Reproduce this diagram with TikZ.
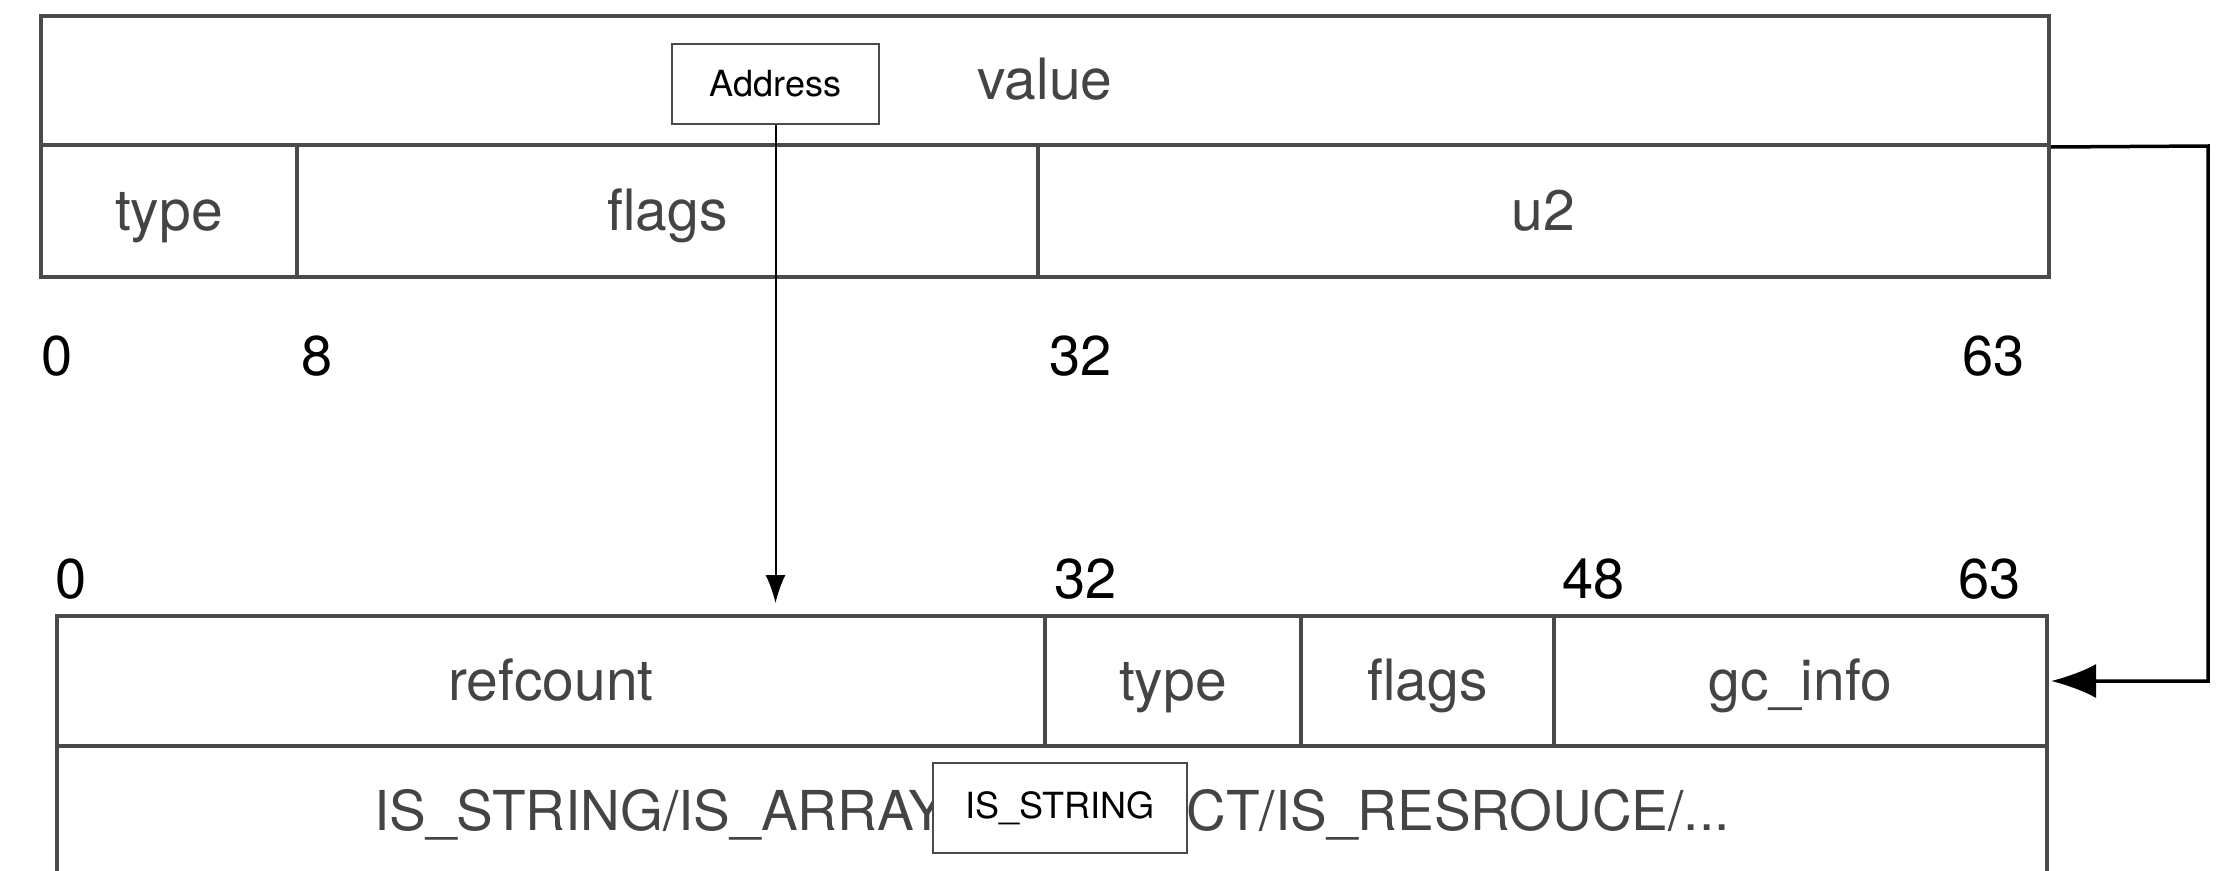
\documentclass[tikz,border=0pt]{standalone}
\usepackage{fontspec}
\setmainfont{TeX Gyre Heros}
\usetikzlibrary{arrows.meta}
\definecolor{boxgray}{HTML}{4A4A4A}
\definecolor{txtgray}{HTML}{444444}
\begin{document}
\begin{tikzpicture}[x=1pt,y=-1pt,
  cell/.style={draw=boxgray, line width=4pt, inner sep=0pt, text height=38pt, text depth=0pt,
    font=\fontsize{57}{60}\selectfont, text=txtgray},
  num/.style={anchor=base west, inner sep=0pt, font=\fontsize{56}{60}\selectfont, text=black},
  tag/.style={draw=boxgray, line width=2pt, fill=white, inner sep=0pt, font=\fontsize{36}{40}\selectfont, text=black},
  link/.style={draw=black, line width=2pt},
]
\useasboundingbox (0,0) rectangle (2234,870);
\clip (0,0) rectangle (2234,870);

% top structure (zval)
\node[cell, minimum width=2008pt, minimum height=129pt] (value) at (1045,80.5) {value};
\node[cell, minimum width=256pt, minimum height=132pt] (ttype) at (169,211) {type};
\node[cell, minimum width=741pt, minimum height=132pt] (tflags) at (667.5,211) {flags};
\node[cell, minimum width=1011pt, minimum height=132pt] (u2) at (1543.5,211) {u2};

% top bit numbers
\node[num] (n0) at (41,375) {0};
\node[num] (n8) at (301,375) {8};
\node[num] (n32) at (1049,375) {32};
\node[num] (n63) at (1962,375) {63};

% bottom structure
\node[cell, minimum width=988pt, minimum height=130pt] (refcount) at (551,681) {refcount};
\node[cell, minimum width=256pt, minimum height=130pt] (btype) at (1173,681) {type};
\node[cell, minimum width=253pt, minimum height=130pt] (bflags) at (1427.5,681) {flags};
\node[cell, minimum width=493pt, minimum height=130pt] (gcinfo) at (1800.5,681) {gc\_info};
\node[cell, minimum width=1990pt, minimum height=130pt, font=\fontsize{55}{60}\selectfont] (kinds) at (1052,811) {IS\_STRING/IS\_ARRAY/IS\_OBJECT/IS\_RESROUCE/...};

% bottom bit numbers
\node[num] (m0) at (55,598) {0};
\node[num] (m32) at (1054,598) {32};
\node[num] (m48) at (1562,598) {48};
\node[num] (m63) at (1958,598) {63};

% tags
\node[tag, minimum width=207pt, minimum height=80pt] (addr) at (775.5,84) {Address};
\node[tag, minimum width=254pt, minimum height=90pt] (isstr) at (1060,808) {IS\_STRING};

% connectors
\coordinate (atip) at (775.5,603);
\draw[link, -{Latex[length=28pt,width=20pt]}] (addr.south) -- (atip);
\coordinate (rc) at (2208,146);
\draw[link, line width=3.5pt, -{Latex[length=45pt,width=34pt]}, shorten >=2pt]
  (value.south east) -- (rc) |- (gcinfo.east);
\end{tikzpicture}
\end{document}
